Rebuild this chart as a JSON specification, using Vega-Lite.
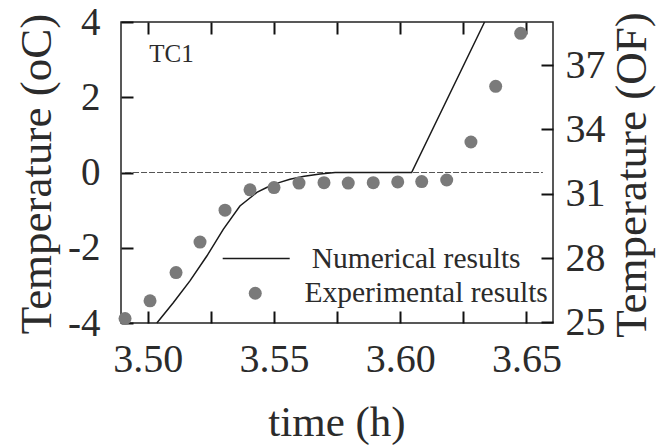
{
  "$schema": "https://vega.github.io/schema/vega-lite/v6.json",
  "width": 432,
  "height": 301,
  "autosize": {"type": "none"},
  "padding": {"left": 121, "top": 22, "right": 108, "bottom": 122},
  "background": "white",
  "config": {
    "font": "Liberation Serif",
    "view": {"stroke": "#222", "strokeWidth": 1.5},
    "axis": {"grid": false, "domain": false, "labelFont": "Liberation Serif", "titleFont": "Liberation Serif", "labelColor": "#2b2b2b", "titleColor": "#2b2b2b", "titleFontWeight": "normal"},
    "legend": {"labelFont": "Liberation Serif", "labelColor": "#2b2b2b", "padding": 0, "labelLimit": 0}
  },
  "datasets": {
    "numerical": [
      {"t": 3.5036, "T": -4.0},
      {"t": 3.5101, "T": -3.46},
      {"t": 3.5167, "T": -2.88},
      {"t": 3.5234, "T": -2.22},
      {"t": 3.5299, "T": -1.51},
      {"t": 3.5365, "T": -0.89},
      {"t": 3.5432, "T": -0.53},
      {"t": 3.5471, "T": -0.40},
      {"t": 3.5520, "T": -0.27},
      {"t": 3.5563, "T": -0.18},
      {"t": 3.5620, "T": -0.10},
      {"t": 3.5682, "T": -0.04},
      {"t": 3.5742, "T": 0.0},
      {"t": 3.6045, "T": 0.0},
      {"t": 3.6334, "T": 4.0}
    ],
    "experimental": [
      {"t": 3.4910, "T": -3.88},
      {"t": 3.5009, "T": -3.41},
      {"t": 3.5112, "T": -2.66},
      {"t": 3.5207, "T": -1.85},
      {"t": 3.5306, "T": -1.00},
      {"t": 3.5405, "T": -0.46},
      {"t": 3.5500, "T": -0.40},
      {"t": 3.5599, "T": -0.28},
      {"t": 3.5698, "T": -0.27},
      {"t": 3.5794, "T": -0.28},
      {"t": 3.5893, "T": -0.27},
      {"t": 3.5990, "T": -0.25},
      {"t": 3.6085, "T": -0.24},
      {"t": 3.6184, "T": -0.20},
      {"t": 3.6280, "T": 0.81},
      {"t": 3.6378, "T": 2.29},
      {"t": 3.6477, "T": 3.70}
    ],
    "fahrenheit": [
      {"t": 3.55, "F": 25},
      {"t": 3.55, "F": 37}
    ],
    "labels": [
      {"t": 3.5006, "T": 2.94, "label": "TC1"}
    ],
    "zero": [
      {"t": 3.4910, "t2": 3.6565, "T": 0}
    ]
  },
  "resolve": {"scale": {"y": "independent"}, "axis": {"x": "independent"}},
  "layer": [
    {
      "layer": [
        {
          "data": {"name": "zero"},
          "mark": {"type": "rule", "stroke": "#555", "strokeWidth": 1, "strokeDash": [6, 2]},
          "encoding": {
            "x": {"field": "t", "type": "quantitative", "scale": {"domain": [3.4894, 3.6605], "nice": false, "zero": false},
              "axis": {"orient": "bottom", "values": [3.5, 3.525, 3.55, 3.575, 3.6, 3.625, 3.65], "labelExpr": "round(datum.value*1000) % 50 === 0 ? format(datum.value, '.2f') : ''", "tickColor": "#111111", "tickWidth": 2, "tickSize": -12, "labelPadding": 28, "labelFontSize": 40, "labelFlush": false, "labelOverlap": false, "title": "time (h)", "titleFontSize": 43, "titleX": 215.5, "titleY": 112, "titleAlign": "center", "titleBaseline": "alphabetic"}},
            "x2": {"field": "t2"},
            "y": {"field": "T", "type": "quantitative", "scale": {"domain": [-4, 4], "nice": false, "zero": false},
              "axis": {"orient": "left", "values": [-4, -3, -2, -1, 0, 1, 2, 3, 4], "labelExpr": "datum.value % 2 === 0 ? '' + datum.value : ''", "tickColor": "#111111", "tickWidth": 2, "tickSize": -12, "labelPadding": 33, "labelFontSize": 39, "labelFlush": false, "labelOverlap": false, "labelBaseline": "middle", "title": "Temperature (oC)", "titleFontSize": 45, "titleAngle": 270, "titleX": -71, "titleY": 151.5, "titleAlign": "center", "titleBaseline": "alphabetic"}}
          }
        },
        {
          "data": {"name": "numerical"},
          "mark": {"type": "line", "strokeWidth": 1.5, "interpolate": "linear"},
          "encoding": {
            "x": {"field": "t", "type": "quantitative"},
            "y": {"field": "T", "type": "quantitative"},
            "stroke": {"datum": "Numerical results", "type": "nominal", "scale": {"range": ["#1a1a1a"]},
              "legend": {"title": null, "orient": "none", "legendX": 100.7, "legendY": 202, "symbolType": "stroke", "symbolSize": 4489, "symbolStrokeWidth": 1.5, "labelFontSize": 29.5, "labelOffset": 21}}
          }
        },
        {
          "data": {"name": "experimental"},
          "mark": {"type": "circle", "size": 169, "opacity": 1},
          "encoding": {
            "x": {"field": "t", "type": "quantitative"},
            "y": {"field": "T", "type": "quantitative"},
            "fill": {"datum": "Experimental results", "type": "nominal", "scale": {"range": ["#7a7a7a"]},
              "legend": {"title": null, "orient": "none", "legendX": 119.5, "legendY": 256.5, "symbolType": "circle", "symbolSize": 169, "symbolOpacity": 1, "symbolStrokeWidth": 0, "labelFontSize": 29.5, "labelOffset": 34.5}}
          }
        },
        {
          "data": {"name": "labels"},
          "mark": {"type": "text", "align": "left", "baseline": "alphabetic", "fontSize": 25, "font": "Liberation Serif", "color": "#2b2b2b"},
          "encoding": {
            "x": {"field": "t", "type": "quantitative"},
            "y": {"field": "T", "type": "quantitative"},
            "text": {"field": "label"}
          }
        }
      ]
    },
    {
      "data": {"name": "fahrenheit"},
      "mark": {"type": "point", "opacity": 0},
      "encoding": {
        "x": {"field": "t", "type": "quantitative", "scale": {"domain": [3.4894, 3.6605], "nice": false, "zero": false},
          "axis": {"orient": "top", "values": [3.5, 3.525, 3.55, 3.575, 3.6, 3.625, 3.65], "labels": false, "tickColor": "#111111", "tickWidth": 2, "tickSize": -12, "title": null}},
        "y": {"field": "F", "type": "quantitative", "scale": {"domain": [24.97, 39.01], "nice": false, "zero": false},
          "axis": {"orient": "right", "values": [25, 28, 31, 34, 37], "tickColor": "#111111", "tickWidth": 2, "tickSize": -12, "labelPadding": 24, "labelFontSize": 40, "labelFlush": false, "labelOverlap": false, "labelBaseline": "middle", "title": "Temperature (OF)", "titleFontSize": 45, "titleAngle": 270, "titleX": 92, "titleY": 152.5, "titleAlign": "center", "titleBaseline": "alphabetic"}}
      }
    }
  ]
}
